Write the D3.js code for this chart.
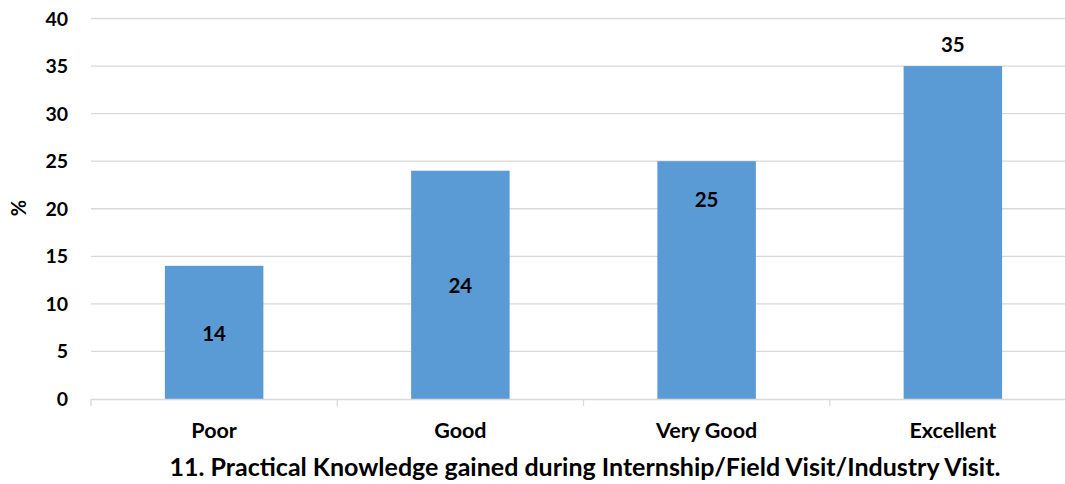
<!DOCTYPE html>
<html><head><meta charset="utf-8">
<script src="https://cdn.jsdelivr.net/npm/d3@7"></script>
<style>body{margin:0;background:#fff}svg{display:block}text{font-family:Lato,"Open Sans",sans-serif;font-weight:bold;fill:#000}</style>
</head><body>
<svg id="c" width="1065" height="484"></svg>
<script>
const categories = ["Poor", "Good", "Very Good", "Excellent"];
const values = [14, 24, 25, 35];
const labelAt = [7, 12, 21, 37.3];
const yTicks = [0, 5, 10, 15, 20, 25, 30, 35, 40];
const yTitle = "%";
const xTitle = "11. Practical Knowledge gained during Internship/Field Visit/Industry Visit.";

(function () {
const svg = d3.select("#c");
const mLeft = 91, mRight = 1076, mTop = 18.5, mBottom = 399;
const x = d3.scaleBand().domain(categories).range([mLeft, mRight]).paddingInner(0.6).paddingOuter(0.3);
const y = d3.scaleLinear().domain([0, 40]).range([mBottom, mTop]);

svg.append("g").selectAll("line").data(yTicks.filter(d => d > 0)).join("line")
  .attr("x1", mLeft).attr("x2", mRight).attr("y1", d => y(d)).attr("y2", d => y(d))
  .attr("stroke", "#d9d9d9").attr("stroke-width", 1.3);

svg.append("g").selectAll("text").data(yTicks).join("text")
  .attr("x", 68).attr("y", d => y(d)).attr("dy", "0.36em").attr("text-anchor", "end")
  .style("font-size", "19.5px").text(d => d);

svg.append("g").selectAll("rect").data(values).join("rect")
  .attr("x", (d, i) => x(categories[i])).attr("width", x.bandwidth())
  .attr("y", d => y(d)).attr("height", d => y(0) - y(d)).attr("fill", "#5b9bd5");

svg.append("line").attr("x1", mLeft).attr("x2", mRight).attr("y1", mBottom + 0.5).attr("y2", mBottom + 0.5)
  .attr("stroke", "#d9d9d9").attr("stroke-width", 1.3);
const bounds = d3.range(categories.length + 1).map(i => mLeft + i * x.step());
svg.append("g").selectAll("line").data(bounds).join("line")
  .attr("x1", d => d).attr("x2", d => d).attr("y1", mBottom).attr("y2", mBottom + 7)
  .attr("stroke", "#d9d9d9").attr("stroke-width", 1.3);

svg.append("g").selectAll("text").data(categories).join("text")
  .attr("x", d => x(d) + x.bandwidth() / 2).attr("y", 438).attr("text-anchor", "middle")
  .style("font-size", "21.5px").text(d => d);

svg.append("g").selectAll("text").data(values).join("text")
  .attr("x", (d, i) => x(categories[i]) + x.bandwidth() / 2).attr("y", (d, i) => y(labelAt[i]))
  .attr("dy", "0.4em").attr("text-anchor", "middle").style("font-size", "20.5px").text(d => d);

svg.append("text").attr("transform", "translate(26,208) rotate(-90)").attr("text-anchor", "middle")
  .style("font-size", "20px").text(yTitle);
svg.append("text").attr("x", 585).attr("y", 476).attr("text-anchor", "middle")
  .style("font-size", "25px").text(xTitle);
})();
</script>
</body></html>
